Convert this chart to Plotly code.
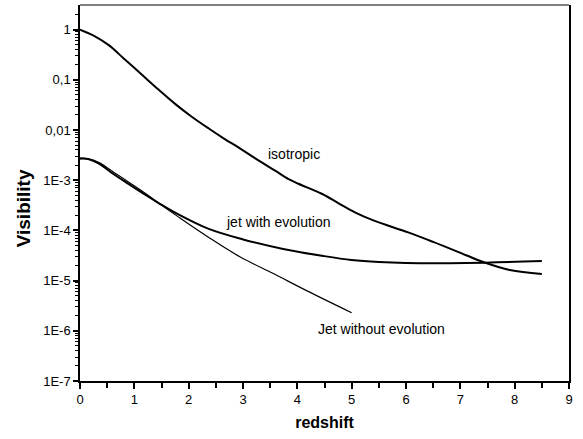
import math
import plotly.graph_objects as go

# ---- data ----
iso_z = [0, 0.25, 0.53, 0.8, 1.14, 1.45, 1.75, 2.05, 2.37, 2.65, 2.95, 3.22, 3.59, 3.84,
         4.02, 4.45, 4.76, 5.06, 5.4, 6.04, 6.5, 7.12, 7.42, 7.91, 8.5]
iso_v = [1.0, 0.759, 0.490, 0.269, 0.126, 0.0631, 0.0331, 0.0186, 0.0107, 0.00676, 0.00427,
         0.00275, 0.00155, 0.00105, 8.5e-4, 5.37e-4, 3.47e-4, 2.29e-4, 1.58e-4, 9.12e-5,
         5.89e-5, 3.16e-5, 2.34e-5, 1.62e-5, 1.35e-5]

evo_z = [0, 0.15, 0.35, 0.58, 0.9, 1.2, 1.44, 1.81, 2.37, 3.0, 3.74, 4.48, 5.0, 5.5, 6.0, 7.1, 8.5]
evo_v = [2.69e-3, 2.63e-3, 2.14e-3, 1.41e-3, 8.32e-4, 5.13e-4, 3.55e-4, 2.09e-4, 1.07e-4,
         6.61e-5, 4.27e-5, 3.09e-5, 2.57e-5, 2.34e-5, 2.24e-5, 2.24e-5, 2.45e-5]

noevo_z = [0, 0.15, 0.35, 0.58, 0.9, 1.2, 1.44, 1.81, 2.37, 2.95, 3.56, 4.17, 5.0]
noevo_v = [2.75e-3, 2.69e-3, 2.24e-3, 1.55e-3, 9.12e-4, 5.5e-4, 3.55e-4, 1.86e-4, 7.24e-5,
           2.95e-5, 1.38e-5, 6.31e-6, 2.29e-6]

y_tickvals = [1, 0.1, 0.01, 1e-3, 1e-4, 1e-5, 1e-6, 1e-7]
y_ticktext = ["1", "0,1", "0,01", "1E-3", "1E-4", "1E-5", "1E-6", "1E-7"]
x_tickvals = [0, 1, 2, 3, 4, 5, 6, 7, 8, 9]
x_minor = [0.5, 1.5, 2.5, 3.5, 4.5, 5.5, 6.5, 7.5, 8.5]

labels = [("isotropic", 3.94, 3.4e-3),
          ("jet with evolution", 3.65, 1.45e-4),
          ("Jet without evolution", 5.55, 1.07e-6)]

FONT = "Liberation Sans, Arial, sans-serif"

y_minor = [m * 10.0 ** e for e in range(-7, 1) for m in range(2, 10)]
y_minor = [v for v in y_minor if v < 3.0]

fig = go.Figure()
fig.add_trace(go.Scatter(x=iso_z, y=iso_v, mode="lines",
                         line=dict(color="black", width=2, shape="spline", smoothing=1.0)))
fig.add_trace(go.Scatter(x=evo_z, y=evo_v, mode="lines",
                         line=dict(color="black", width=2, shape="spline", smoothing=1.0)))
fig.add_trace(go.Scatter(x=noevo_z, y=noevo_v, mode="lines",
                         line=dict(color="black", width=1.2, shape="spline", smoothing=1.0)))

for txt, xx, yy in labels:
    fig.add_annotation(x=xx, y=math.log10(yy), xref="x", yref="y", text=txt,
                       showarrow=False, font=dict(family=FONT, size=14, color="black"))

fig.update_layout(
    width=583, height=439,
    margin=dict(l=80, r=14, t=5, b=58),
    paper_bgcolor="white", plot_bgcolor="white",
    showlegend=False,
    font=dict(family=FONT, size=13, color="black"),
    xaxis=dict(range=[0, 9], tickvals=x_tickvals, ticks="outside", ticklen=6, tickwidth=1.5,
               tickcolor="black", showline=True, linecolor="black", linewidth=1.5,
               showgrid=False, zeroline=False, mirror=False,
               minor=dict(tickmode="array", tickvals=x_minor, ticks="outside", ticklen=5,
                          tickwidth=1.5, tickcolor="black", showgrid=False),
               title=dict(text="<b>redshift</b>", font=dict(size=16, family=FONT), standoff=10)),
    yaxis=dict(type="log", range=[-7, 0.49], tickmode="array", tickvals=y_tickvals,
               ticktext=y_ticktext, ticks="outside", ticklen=5, tickwidth=1.5, tickcolor="black",
               showline=True, linecolor="black", linewidth=1.5, mirror=True,
               showgrid=False, zeroline=False,
               minor=dict(tickmode="array", tickvals=y_minor, ticks="outside", ticklen=3,
                          tickwidth=1, tickcolor="black", showgrid=False),
               title=dict(text="")),
)

# top frame line (gray)
fig.add_shape(type="line", xref="paper", yref="paper", x0=0, x1=1, y0=1, y1=1,
              line=dict(color="#808080", width=2))

# y-axis title placed as a rotated annotation
fig.add_annotation(xref="paper", yref="paper", x=-0.116, y=0.46, text="<b>Visibility</b>",
                   textangle=-90, showarrow=False, xanchor="center", yanchor="middle",
                   font=dict(family=FONT, size=19, color="black"))

fig.write_html("out.html")
